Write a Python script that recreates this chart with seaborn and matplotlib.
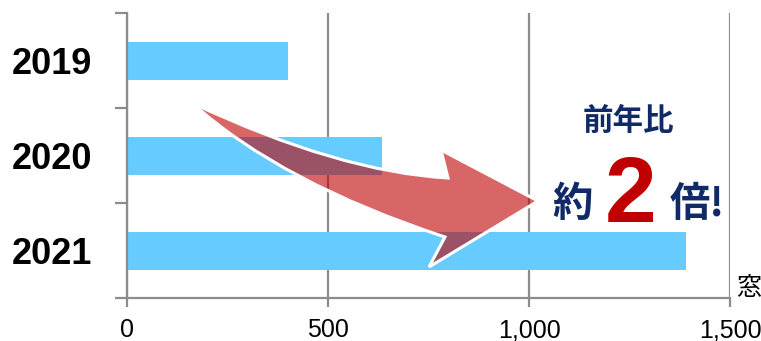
import numpy as np
import pandas as pd
import seaborn as sns
import matplotlib.pyplot as plt
from matplotlib.path import Path
from matplotlib.patches import PathPatch
from matplotlib.ticker import FuncFormatter

years = ["2019", "2020", "2021"]
counts = [400, 635, 1390]
x_ticks = [0, 500, 1000, 1500]
unit_label = "窓"
note_top = "前年比"
note_left = "約"
note_num = "2"
note_right = "倍!"

W, H = 761, 341
GRAY = "#8c8c8c"
NAVY = "#0f2a66"
RED = "#c00000"

df = pd.DataFrame({"year": years, "count": counts})

fig = plt.figure(figsize=(W / 100, H / 100), dpi=100)
ax = fig.add_axes([127 / W, 1 - 298 / H, (730 - 127) / W, (298 - 13) / H])

sns.barplot(data=df, x="count", y="year", orient="h", color="#66ccff",
            saturation=1, width=0.4, linewidth=0, ax=ax, zorder=2)

ax.set_xlim(0, 1500)
ax.set_ylim(2.5, -0.5)
ax.set_xlabel("")
ax.set_ylabel("")
ax.set_xticks(x_ticks)
ax.xaxis.set_major_formatter(FuncFormatter(lambda v, p: f"{int(v):,}"))
ax.grid(axis="x", color=GRAY, linewidth=1.6, zorder=0)
ax.set_axisbelow(True)

for side in ["top", "right"]:
    ax.spines[side].set_visible(False)
for side in ["left", "bottom"]:
    ax.spines[side].set_color(GRAY)
    ax.spines[side].set_linewidth(1.6)

ax.tick_params(axis="x", length=6.5, width=1.6, color=GRAY, pad=8,
               labelsize=18)
for lab in ax.get_xticklabels():
    lab.set_family("Liberation Sans")

# year labels centred on the bars, tick marks on the category borders
ax.tick_params(axis="y", which="major", length=0, pad=25, labelsize=26)
for lab in ax.get_yticklabels():
    lab.set_family("Liberation Sans")
    lab.set_fontweight("bold")
ax.set_yticks([-0.5, 0.5, 1.5, 2.5], minor=True)
ax.tick_params(axis="y", which="minor", length=9, width=1.6, color=GRAY)


def px(x, y):
    return x / W, 1 - y / H


# big translucent arrow
verts = [(192, 103), (339, 172), (448, 178), (441, 150), (538, 201),
         (429, 267), (445, 237), (281, 183), (192, 103), (192, 103)]
codes = [Path.MOVETO, Path.CURVE3, Path.CURVE3, Path.LINETO, Path.LINETO,
         Path.LINETO, Path.LINETO, Path.CURVE3, Path.CURVE3, Path.CLOSEPOLY]
arrow = PathPatch(Path([px(*v) for v in verts], codes),
                  facecolor=(0.75, 0.0, 0.0, 0.6), edgecolor="white",
                  linewidth=2.2, joinstyle="miter", transform=fig.transFigure,
                  zorder=5)
fig.patches.append(arrow)

jp = ["Noto Sans CJK JP", "DejaVu Sans"]
fig.text(*px(628, 121), note_top, family=jp, fontweight="bold", fontsize=22,
         color=NAVY, ha="center", va="center")
fig.text(*px(572, 205), note_left, family=jp, fontweight="bold", fontsize=29,
         color=NAVY, ha="center", va="center")
fig.text(*px(631, 222), note_num, family="Liberation Sans", fontweight="bold",
         fontsize=67, color=RED, ha="center", va="baseline")
fig.text(*px(697, 205), note_right, family=jp, fontweight="bold", fontsize=29,
         color=NAVY, ha="center", va="center")
fig.text(*px(749, 288), unit_label, family=jp, fontsize=18, color="black",
         ha="center", va="center")

fig.savefig("out.png", dpi=100)
